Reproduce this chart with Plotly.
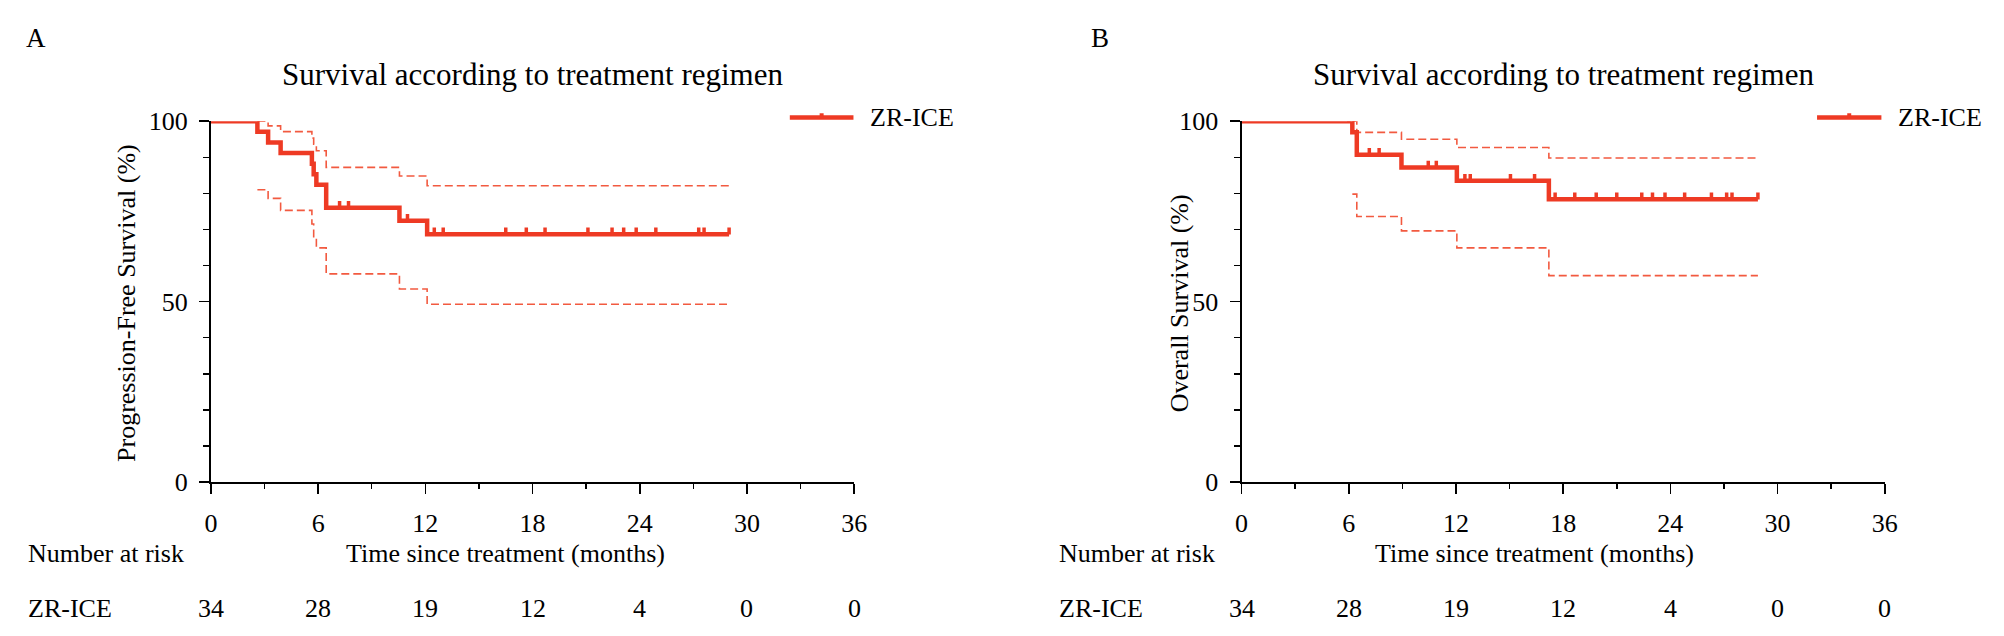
import numpy as np
import plotly.graph_objects as go

# ---------------- data ----------------
pfs_t = [0, 2.6, 3.2, 3.9, 5.65, 5.75, 5.9, 6.45, 10.55, 12.1, 29.0]
pfs_s = [100, 97.1, 94.1, 91.2, 88.2, 85.3, 82.4, 76.0, 72.4, 68.7, 68.7]
pfs_up_t = [2.6, 3.2, 3.9, 5.65, 5.75, 5.9, 6.45, 10.55, 12.1, 29.0]
pfs_up_s = [100, 98.7, 97.1, 95.3, 93.6, 91.8, 87.2, 84.8, 82.1, 82.1]
pfs_lo_t = [2.6, 3.2, 3.9, 5.65, 5.75, 5.9, 6.45, 10.55, 12.1, 29.0]
pfs_lo_s = [81.0, 78.6, 75.3, 71.5, 68.0, 64.9, 57.7, 53.5, 49.3, 49.3]
pfs_cens = [7.2, 7.7, 11.0, 12.5, 13.0, 16.5, 17.65, 18.7, 21.1, 22.45, 23.1,
            23.8, 24.9, 27.3, 27.6, 29.0]

os_t = [0, 6.2, 6.45, 8.95, 12.05, 17.2, 28.9]
os_s = [100, 96.9, 90.7, 87.2, 83.5, 78.4, 78.4]
os_up_t = [6.2, 6.45, 8.95, 12.05, 17.2, 28.9]
os_up_s = [100, 96.9, 95.0, 92.7, 89.8, 89.8]
os_lo_t = [6.2, 6.45, 8.95, 12.05, 17.2, 28.9]
os_lo_s = [79.8, 73.6, 69.6, 64.9, 57.2, 57.2]
os_cens = [6.0, 7.15, 7.7, 10.45, 10.9, 12.5, 12.8, 15.05, 16.4, 17.55, 18.65,
           19.85, 21.0, 22.4, 23.0, 23.7, 24.8, 26.3, 27.15, 27.45, 28.9]

risk_times = [0, 6, 12, 18, 24, 30, 36]
risk_A = [34, 28, 19, 12, 4, 0, 0]
risk_B = [34, 28, 19, 12, 4, 0, 0]

group = "ZR-ICE"
title_txt = "Survival according to treatment regimen"
xtitle = "Time since treatment (months)"
ytitle_A = "Progression-Free Survival (%)"
ytitle_B = "Overall Survival (%)"

# ---------------- styles ----------------
W, H = 2004, 636
FONT = "Liberation Serif, Times New Roman, serif"
RED = "#EE3A24"
CI = "#F25A40"
px = lambda v: v / W
py = lambda v: 1 - v / H


def step_at(ts, ss, t):
    i = np.searchsorted(np.array(ts), t, side="right") - 1
    return ss[max(i, 0)]


fig = go.Figure()


def add_panel(xa, ya, t, s, ut, us, lt, ls, cens):
    for ct, cs in ((ut, us), (lt, ls)):
        fig.add_trace(go.Scatter(x=ct, y=cs, mode="lines", line_shape="hv",
                                 line=dict(color=CI, width=1.6, dash="8px,4px"),
                                 xaxis=xa, yaxis=ya, showlegend=False, hoverinfo="skip"))
    fig.add_trace(go.Scatter(x=t, y=s, mode="lines", line_shape="hv",
                             line=dict(color=RED, width=4.5),
                             xaxis=xa, yaxis=ya, showlegend=False, name=group))
    cy = [step_at(t, s, c) for c in cens]
    fig.add_trace(go.Scatter(x=cens, y=[v + 0.9 for v in cy], mode="markers",
                             marker=dict(symbol="line-ns", size=5,
                                         line=dict(color=RED, width=3.5)),
                             xaxis=xa, yaxis=ya, showlegend=False, hoverinfo="skip"))


add_panel("x", "y", pfs_t, pfs_s, pfs_up_t, pfs_up_s, pfs_lo_t, pfs_lo_s, pfs_cens)
add_panel("x2", "y2", os_t, os_s, os_up_t, os_up_s, os_lo_t, os_lo_s, os_cens)

xdomA = [px(206), px(855.7)]
xdomB = [px(1247), px(1896.7)]
ydom = [py(490.5), py(112.3)]

xcommon = dict(range=[0, 36], tickvals=risk_times, showline=True, linecolor="black",
               linewidth=2, ticks="outside", ticklen=10, tickwidth=1.5, tickcolor="black",
               minor=dict(dtick=3, tick0=0, ticks="outside", ticklen=5, tickwidth=1.5,
                          tickcolor="black", showgrid=False),
               showgrid=False, zeroline=False, fixedrange=True,
               tickfont=dict(family=FONT, size=26, color="black"), ticklabelstandoff=7)
ycommon = dict(range=[0, 100], tickvals=[0, 50, 100], showline=True, linecolor="black",
               linewidth=2, ticks="outside", ticklen=10, tickwidth=1.5, tickcolor="black",
               minor=dict(dtick=10, tick0=0, ticks="outside", ticklen=6, tickwidth=1.5,
                          tickcolor="black", showgrid=False),
               showgrid=False, zeroline=False, fixedrange=True,
               tickfont=dict(family=FONT, size=26, color="black"), ticklabelstandoff=6)

fig.update_layout(
    width=W, height=H, autosize=False,
    margin=dict(l=0, r=0, t=0, b=0),
    paper_bgcolor="white", plot_bgcolor="white",
    showlegend=False,
    font=dict(family=FONT, color="black"),
    xaxis=dict(domain=xdomA, anchor="y", **xcommon),
    yaxis=dict(domain=ydom, anchor="x", **ycommon),
    xaxis2=dict(domain=xdomB, anchor="y2", **xcommon),
    yaxis2=dict(domain=ydom, anchor="x2", **ycommon),
)

ann = []


def text(x, y, s, size=26, xanchor="center", angle=0, xref="paper"):
    ann.append(dict(x=x, y=y, xref=xref, yref="paper", text=s, showarrow=False,
                    xanchor=xanchor, yanchor="middle", textangle=angle,
                    font=dict(family=FONT, size=size, color="black")))


text(px(29), py(25), "A", size=27)
text(px(1104), py(25), "B", size=27)
text(px(531), py(63), title_txt, size=31)
text(px(1572), py(63), title_txt, size=31)
text(px(120), py(303), ytitle_A, angle=-90)
text(px(1184), py(303), ytitle_B, angle=-90)
text(px(504), py(565), xtitle)
text(px(1543), py(565), xtitle)
text(px(19), py(565), "Number at risk", xanchor="left")
text(px(1061), py(565), "Number at risk", xanchor="left")
text(px(19), py(623), group, xanchor="left")
text(px(1061), py(623), group, xanchor="left")
for xr, vals in (("x", risk_A), ("x2", risk_B)):
    for tt, v in zip(risk_times, vals):
        text(tt, py(623), str(v), xref=xr)
text(px(870), py(108), group, xanchor="left")
text(px(1908), py(108), group, xanchor="left")

shapes = []
for x0, x1 in ((790.7, 855), (1828.3, 1893.3)):
    shapes.append(dict(type="line", xref="paper", yref="paper", x0=px(x0), x1=px(x1),
                       y0=py(108.5), y1=py(108.5), line=dict(color=RED, width=4.5)))
    xm = (x0 + x1) / 2
    shapes.append(dict(type="line", xref="paper", yref="paper", x0=px(xm), x1=px(xm),
                       y0=py(104), y1=py(110), line=dict(color=RED, width=4)))

fig.update_layout(annotations=ann, shapes=shapes)
fig.write_html(
    "out.html",
    config={"displayModeBar": False, "staticPlot": True},
    post_script="document.body.style.margin='0';document.body.style.overflow='hidden';",
)
